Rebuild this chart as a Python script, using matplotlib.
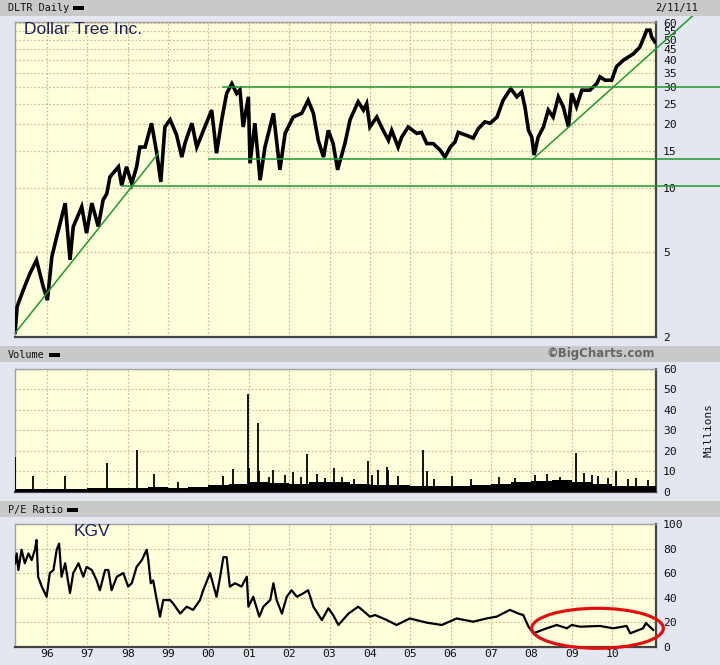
"""
Dollar Tree Inc. (DLTR) daily - price / volume / P/E, BigCharts style
"""
import matplotlib
matplotlib.use('Agg')
import matplotlib.pyplot as plt
from matplotlib.patches import Rectangle, Ellipse
from matplotlib.ticker import NullLocator, FixedLocator, FixedFormatter

W, H = 720, 665

# ── data (decimal years) ──
price_t = [1995.21, 1995.26, 1995.41, 1995.58, 1995.74, 1995.91, 1996.01, 1996.12, 1996.24, 1996.45,
           1996.57, 1996.65, 1996.86, 1996.98, 1997.11, 1997.27, 1997.39, 1997.48, 1997.56, 1997.77,
           1997.85, 1997.97, 1998.10, 1998.22, 1998.30, 1998.43, 1998.59, 1998.72, 1998.82, 1998.92,
           1999.05, 1999.21, 1999.34, 1999.42, 1999.59, 1999.71, 1999.91, 2000.08, 2000.20, 2000.33,
           2000.45, 2000.58, 2000.70, 2000.78, 2000.86, 2000.99, 2001.03, 2001.15, 2001.28, 2001.40,
           2001.61, 2001.77, 2001.90, 2002.10, 2002.31, 2002.47, 2002.60, 2002.72, 2002.85, 2002.97,
           2003.09, 2003.20, 2003.38, 2003.51, 2003.71, 2003.84, 2003.92, 2004.00, 2004.17, 2004.33,
           2004.46, 2004.54, 2004.70, 2004.79, 2004.95, 2005.16, 2005.28, 2005.41, 2005.57, 2005.74,
           2005.86, 2005.99, 2006.11, 2006.19, 2006.40, 2006.56, 2006.69, 2006.85, 2006.98, 2007.15,
           2007.30, 2007.49, 2007.64, 2007.76, 2007.84, 2007.93, 2008.01, 2008.07, 2008.17, 2008.30,
           2008.42, 2008.54, 2008.67, 2008.79, 2008.92, 2009.00, 2009.12, 2009.25, 2009.45, 2009.62,
           2009.70, 2009.83, 2009.99, 2010.11, 2010.28, 2010.53, 2010.69, 2010.86, 2010.94, 2010.98,
           2011.06]
price_v = [2.10, 2.77, 3.31, 3.98, 4.58, 3.42, 2.97, 4.75, 5.90, 8.5,
           4.6, 6.58, 8.17, 6.14, 8.5, 6.6, 8.8, 9.4, 11.3, 12.6,
           10.3, 12.6, 10.5, 12.6, 15.6, 15.6, 20.2, 14.6, 10.7, 19.4,
           21.0, 17.8, 14.0, 16.3, 20.2, 15.6, 19.4, 23.3, 14.6, 21.0,
           27.9, 31.0, 27.9, 29.0, 19.4, 26.9, 13.1, 20.2, 10.9, 15.6,
           22.5, 12.2, 18.1, 21.6, 22.5, 25.9, 22.5, 16.8, 14.0, 18.7,
           16.2, 12.2, 16.2, 21.0, 25.5, 23.3, 25.0, 19.4, 21.6, 18.7,
           16.8, 18.7, 15.6, 17.4, 19.4, 18.1, 18.3, 16.2, 16.2, 15.1,
           14.0, 15.6, 16.5, 18.3, 17.7, 17.2, 19.1, 20.5, 20.2, 21.6,
           25.9, 29.4, 26.9, 28.3, 24.2, 18.7, 17.4, 14.3, 17.4, 19.4,
           23.3, 21.6, 26.9, 24.2, 19.4, 27.9, 24.2, 28.9, 28.9, 31.0,
           33.4, 32.2, 32.2, 37.3, 40.0, 42.9, 46.1, 55.4, 55.4, 51.5,
           48.8]

# typical daily volume (millions), half-year steps
vol_base_t = [1995.21, 1995.5, 1996.0, 1996.5, 1997.0, 1997.5, 1998.0, 1998.5, 1999.0, 1999.5,
              2000.0, 2000.5, 2001.0, 2001.5, 2002.0, 2002.5, 2003.0, 2003.5, 2004.0, 2004.5,
              2005.0, 2005.5, 2006.0, 2006.5, 2007.0, 2007.5, 2008.0, 2008.5, 2009.0, 2009.5,
              2010.0, 2010.5, 2011.09]
vol_base_v = [1.2, 1.3, 1.5, 1.5, 1.6, 1.8, 2.0, 2.2, 2.0, 2.2,
              3.5, 3.8, 4.5, 4.2, 4.0, 4.5, 4.5, 4.0, 3.5, 3.5,
              3.0, 2.8, 3.0, 3.2, 3.8, 4.5, 5.0, 5.5, 4.5, 4.0,
              3.0, 3.0, 3.0]
# volume spikes
spike_t = [1995.21, 1995.65, 1996.45, 1997.49, 1998.23, 1998.65, 1999.25, 2000.36, 2000.61, 2000.98,
           2001.01, 2001.24, 2001.26, 2001.50, 2001.60, 2001.90, 2002.10, 2002.30, 2002.44, 2002.70,
           2002.90, 2003.11, 2003.30, 2003.60, 2003.96, 2004.05, 2004.21, 2004.42, 2004.46, 2004.70,
           2005.32, 2005.41, 2005.60, 2006.03, 2006.50, 2007.20, 2007.60, 2008.10, 2008.40, 2008.70,
           2009.10, 2009.30, 2009.50, 2009.64, 2009.90, 2010.10, 2010.40, 2010.60, 2010.90]
spike_v = [17.0, 7.7, 7.7, 14.2, 20.4, 8.7, 4.9, 7.7, 11.1, 47.8,
           11.4, 33.7, 10.1, 7.0, 10.6, 8.0, 9.8, 7.0, 18.4, 8.5,
           6.5, 11.6, 7.0, 6.0, 15.0, 8.0, 10.6, 12.1, 10.6, 7.8,
           20.4, 10.1, 6.0, 7.7, 6.0, 7.0, 6.5, 8.0, 8.5, 7.0,
           18.8, 9.0, 8.0, 7.7, 6.5, 10.1, 6.0, 6.5, 5.5]

pe_t = [1995.21, 1995.25, 1995.29, 1995.37, 1995.45, 1995.54, 1995.62, 1995.70, 1995.74, 1995.78,
        1995.87, 1995.99, 1996.07, 1996.16, 1996.24, 1996.30, 1996.36, 1996.45, 1996.53, 1996.57,
        1996.65, 1996.78, 1996.90, 1996.98, 1997.11, 1997.23, 1997.31, 1997.44, 1997.52, 1997.60,
        1997.73, 1997.89, 1998.01, 1998.10, 1998.22, 1998.35, 1998.47, 1998.51, 1998.57, 1998.63,
        1998.72, 1998.80, 1998.88, 1999.05, 1999.13, 1999.30, 1999.46, 1999.62, 1999.79, 1999.87,
        2000.04, 2000.20, 2000.29, 2000.37, 2000.45, 2000.53, 2000.66, 2000.82, 2000.95, 2000.99,
        2001.11, 2001.26, 2001.36, 2001.53, 2001.61, 2001.69, 2001.82, 2001.94, 2002.06, 2002.19,
        2002.35, 2002.47, 2002.60, 2002.81, 2002.97, 2003.09, 2003.22, 2003.47, 2003.71, 2003.76,
        2004.00, 2004.13, 2004.42, 2004.66, 2004.99, 2005.41, 2005.78, 2006.15, 2006.56, 2006.89,
        2007.14, 2007.47, 2007.68, 2007.80, 2007.93, 2008.05, 2008.38, 2008.63, 2008.88, 2009.00,
        2009.21, 2009.70, 2010.03, 2010.36, 2010.45, 2010.77, 2010.84, 2011.02]
pe_v = [68, 76, 62.5, 79, 68, 76, 70.6, 79, 87, 57,
        49, 40.7, 60, 62.5, 79, 84, 57, 68, 51.7, 43.7,
        60, 68, 57, 65, 62.5, 54, 46, 62.5, 62.5, 46,
        57, 60, 49, 51.7, 65, 70.6, 79, 70.6, 51.7, 54,
        38, 24.5, 38, 38, 35, 27, 32.6, 30, 38, 46,
        60, 40.7, 57, 73, 73, 49, 51.7, 49, 57, 32.6,
        40.7, 24.5, 32.6, 38, 51.7, 38, 27, 40.7, 46, 40.7,
        43.5, 46, 32.6, 21.7, 31.3, 25.8, 17.7, 27, 32.6, 31.3,
        24.5, 25.8, 21.7, 17.7, 23, 19.6, 17.7, 23, 20.4, 23,
        24.5, 30, 27, 25.8, 16.3, 10.9, 15, 17.7, 15, 17.7,
        16.3, 16.9, 15, 16.9, 10.9, 15, 19.3, 13.6]

years = list(range(1996, 2011))
year_labels = ['%02d' % (y % 100) for y in years]
price_ticks = [2, 5, 10, 15, 20, 25, 30, 35, 40, 45, 50, 55, 60]
vol_ticks = [0, 10, 20, 30, 40, 50, 60]
pe_ticks = [0, 20, 40, 60, 80, 100]

XMIN, XMAX = 1995.207, 2011.089

C = {'bg': '#e4e7ef', 'band': '#c9c9c9', 'plot': '#ffffdc', 'grid': '#cdbf96',
     'green': '#1e9a2e', 'red': '#e01010', 'navy': '#1c2060', 'txt': '#111111'}

MONO = 'DejaVu Sans Mono'
TFS = 8.2   # tick label size

fig = plt.figure(figsize=(W / 100, H / 100), dpi=100, facecolor=C['bg'])


def fx(x):
    return x / W


def fy(y):
    return 1 - y / H


def band(y0, y1):
    fig.patches.append(Rectangle((0, fy(y1)), 1, fy(y0) - fy(y1), transform=fig.transFigure,
                                 facecolor=C['band'], edgecolor='none', zorder=0))


def panel(top, bottom):
    ax = fig.add_axes([fx(15), fy(bottom), fx(656) - fx(15), fy(top) - fy(bottom)])
    ax.set_facecolor(C['plot'])
    ax.set_xlim(XMIN, XMAX)
    ax.xaxis.set_major_locator(FixedLocator(years))
    ax.xaxis.set_minor_locator(NullLocator())
    ax.yaxis.tick_right()
    ax.tick_params(axis='y', length=0, labelsize=TFS, colors=C['txt'], pad=5)
    ax.tick_params(axis='x', length=0, labelsize=TFS, colors=C['txt'], pad=2)
    ax.grid(True, color=C['grid'], linestyle=(0, (1.5, 1.5)), linewidth=0.9, zorder=0)
    ax.set_axisbelow(True)
    for s in ('left', 'top'):
        ax.spines[s].set_color('#a0a0a0')
        ax.spines[s].set_linewidth(1)
    for s in ('right', 'bottom'):
        ax.spines[s].set_color('#444444')
        ax.spines[s].set_linewidth(1.6)
    return ax


def mono_labels(ax):
    for lab in ax.get_yticklabels() + ax.get_xticklabels():
        lab.set_fontfamily(MONO)


band(0, 16)
band(346, 362)
band(501, 517)

# ── price panel ──
ax1 = panel(22, 336.7)
ax1.set_yscale('log')
ax1.set_ylim(2, 60.5)
ax1.yaxis.set_major_locator(FixedLocator(price_ticks))
ax1.yaxis.set_major_formatter(FixedFormatter([str(v) for v in price_ticks]))
ax1.yaxis.set_minor_locator(NullLocator())
ax1.set_xticklabels([])
mono_labels(ax1)
ax1.plot(price_t, price_v, color='black', lw=2.6, solid_joinstyle='miter', zorder=3)

# support / trend lines
gkw = dict(color=C['green'], lw=1.1, clip_on=False, zorder=4)
ax1.plot([2000.36, 2012.8], [30, 30], **gkw)
ax1.plot([2000.01, 2012.8], [13.7, 13.7], **gkw)
ax1.plot([1997.86, 2012.8], [10.2, 10.2], **gkw)
ax1.plot([1995.21, 1998.76], [2.08, 14.6], **gkw)
ax1.plot([2008.04, 2012.43], [13.7, 76.6], **gkw)

# ── volume panel ──
ax2 = panel(369, 491.7)
ax2.set_ylim(0, 60)
ax2.yaxis.set_major_locator(FixedLocator(vol_ticks))
ax2.set_xticklabels([])
mono_labels(ax2)
ax2.fill_between(vol_base_t, 0, vol_base_v, step='post', color='black', lw=0, zorder=3)
ax2.vlines(spike_t, 0, spike_v, color='black', lw=1.3, zorder=3)

# ── P/E panel ──
ax3 = panel(524, 646.7)
ax3.set_ylim(0, 100)
ax3.yaxis.set_major_locator(FixedLocator(pe_ticks))
ax3.set_xticklabels(year_labels, fontsize=TFS)
mono_labels(ax3)
ax3.plot(pe_t, pe_v, color='black', lw=1.6, zorder=3)
ax3.add_patch(Ellipse((2009.64, 15), 3.26, 32.6, facecolor='none', edgecolor=C['red'],
                      lw=2.3, clip_on=False, zorder=5))

# ── texts ──
HFS = 7.3
fig.text(fx(8), fy(8), 'DLTR Daily', fontsize=HFS, family=MONO, va='center', color=C['txt'])
fig.text(fx(8), fy(355), 'Volume', fontsize=HFS, family=MONO, va='center', color=C['txt'])
fig.text(fx(8), fy(510), 'P/E Ratio', fontsize=HFS, family=MONO, va='center', color=C['txt'])
for xl, yl in ((73, 8), (49, 355), (67, 510)):
    fig.patches.append(Rectangle((fx(xl), fy(yl + 2)), fx(11), 4 / H, transform=fig.transFigure,
                                 facecolor='black', edgecolor='none'))
fig.text(fx(698), fy(8), '2/11/11', fontsize=HFS, family=MONO, va='center', ha='right', color=C['txt'])
fig.text(fx(655), fy(354), '©BigCharts.com', fontsize=8.5, fontweight='bold', va='center',
         ha='right', color='#666666', family='DejaVu Sans')
fig.text(fx(708), fy(430), 'Millions', fontsize=8, family=MONO, rotation=90, va='center',
         ha='center', color=C['txt'])
fig.text(fx(24), fy(30), 'Dollar Tree Inc.', fontsize=12.5, family='Liberation Sans',
         va='center', color=C['navy'])
fig.text(fx(74), fy(531), 'KGV', fontsize=12.5, family='Liberation Sans', va='center', color=C['navy'])

plt.savefig('out.png', dpi=100, facecolor=C['bg'])
plt.close()
print('Saved: out.png')
